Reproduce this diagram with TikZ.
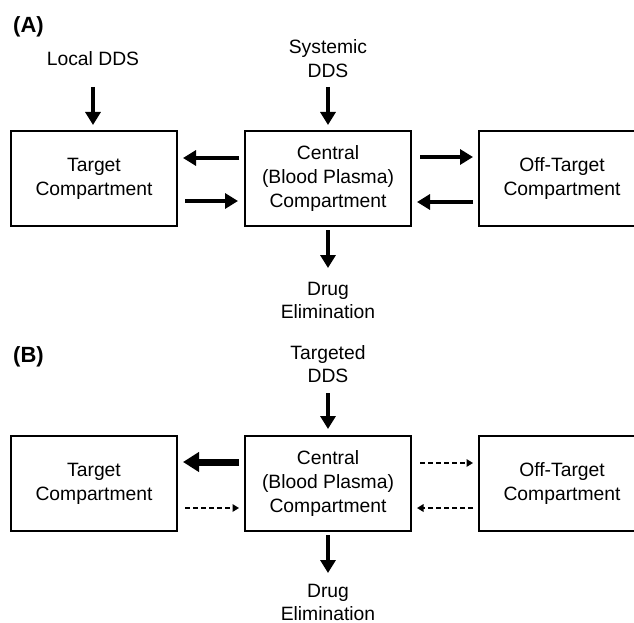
\documentclass[tikz,border=0pt]{standalone}
\usepackage{fontspec}
\setmainfont{Liberation Sans}
\usetikzlibrary{arrows.meta}
\begin{document}
\begin{tikzpicture}[x=1pt,y=-1pt,
  font=\fontsize{19.3}{23.8}\selectfont,
  comp/.style={draw,line width=2pt,minimum width=166pt,minimum height=95pt,align=center,inner sep=0pt},
  lbl/.style={align=center,inner sep=0pt},
  panel/.style={font=\fontsize{22}{24}\selectfont\bfseries,inner sep=0pt},
  thick arrow/.style={line width=4.5pt,-{Triangle[width=15pt,length=13pt]}},
  heavy arrow/.style={line width=7pt,-{Triangle[width=19pt,length=16pt]}},
  dash arrow/.style={line width=1.7pt,dash pattern=on 5pt off 3pt,-{Triangle[width=7.5pt,length=6.5pt]}}]
\useasboundingbox (0,0) rectangle (634,623);
\clip (0,0) rectangle (634,623);
% ---------------- Panel A ----------------
\node[panel] (pa) at (28.5,27) {(A)};
\node[comp] (ta) at (94,178.5) {Target\\Compartment};
\node[comp] (ca) at (328,178.5) {Central\\(Blood Plasma)\\Compartment};
\node[comp] (oa) at (562,178.5) {Off-Target\\Compartment};
\node[lbl] (lda) at (93,59) {Local DDS};
\node[lbl] (sda) at (328,58.5) {Systemic\\DDS};
\node[lbl] (dea) at (328,300.5) {Drug\\Elimination};
\coordinate (la1) at (93,87);
\coordinate (sa1) at (328,87);
\coordinate (ea2) at (328,268);
\draw[thick arrow] (la1) -- ([yshift=5pt]ta.north -| la1);
\draw[thick arrow] (sa1) -- ([yshift=5pt]ca.north);
\draw[thick arrow] ([yshift=-3pt]ca.south) -- (ea2);
\draw[thick arrow] ([xshift=-5pt]ca.west |- 0,158) -- ([xshift=5pt]ta.east |- 0,158);
\draw[thick arrow] ([xshift=7pt]ta.east |- 0,201) -- ([xshift=-6pt]ca.west |- 0,201);
\draw[thick arrow] ([xshift=8pt]ca.east |- 0,157) -- ([xshift=-5pt]oa.west |- 0,157);
\draw[thick arrow] ([xshift=-5pt]oa.west |- 0,202) -- ([xshift=5pt]ca.east |- 0,202);
% ---------------- Panel B ----------------
\node[panel] (pb) at (28.5,357) {(B)};
\node[comp] (tb) at (94,483.5) {Target\\Compartment};
\node[comp] (cb) at (328,483.5) {Central\\(Blood Plasma)\\Compartment};
\node[comp] (ob) at (562,483.5) {Off-Target\\Compartment};
\node[lbl] (sdb) at (328,364) {Targeted\\DDS};
\node[lbl] (deb) at (328,602.5) {Drug\\Elimination};
\coordinate (sb1) at (328,393);
\coordinate (eb2) at (328,573);
\draw[thick arrow] (sb1) -- ([yshift=6pt]cb.north);
\draw[thick arrow] ([yshift=-3pt]cb.south) -- (eb2);
\draw[heavy arrow] ([xshift=-5pt]cb.west |- 0,462) -- ([xshift=5pt]tb.east |- 0,462);
\draw[dash arrow] ([xshift=7pt]tb.east |- 0,508) -- ([xshift=-5pt]cb.west |- 0,508);
\draw[dash arrow] ([xshift=8pt]cb.east |- 0,463) -- ([xshift=-5pt]ob.west |- 0,463);
\draw[dash arrow] ([xshift=-5pt]ob.west |- 0,508) -- ([xshift=5pt]cb.east |- 0,508);
\end{tikzpicture}
\end{document}
